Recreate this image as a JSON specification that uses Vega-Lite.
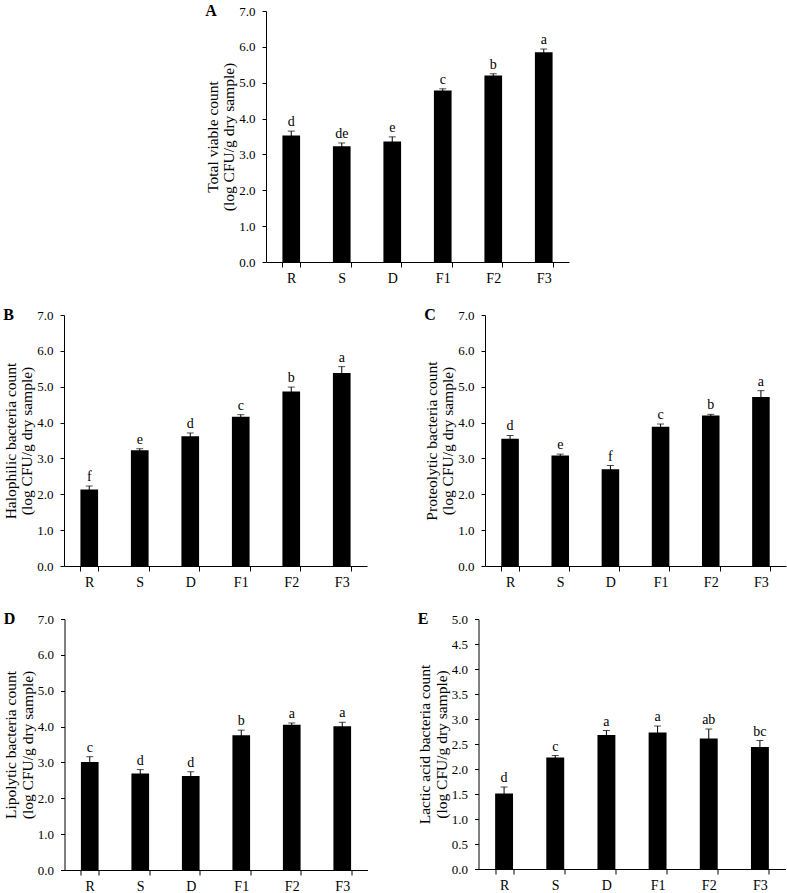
{
  "$schema": "https://vega.github.io/schema/vega-lite/v6.json",
  "padding": {"left": 3, "top": 3, "right": 2, "bottom": 0},
  "background": "white",
  "datasets": {
    "counts": [
      {"panel": "A", "group": "R", "mean": 3.53, "sd": 0.12, "sig": "d"},
      {"panel": "A", "group": "S", "mean": 3.23, "sd": 0.09, "sig": "de"},
      {"panel": "A", "group": "D", "mean": 3.36, "sd": 0.13, "sig": "e"},
      {"panel": "A", "group": "F1", "mean": 4.78, "sd": 0.05, "sig": "c"},
      {"panel": "A", "group": "F2", "mean": 5.20, "sd": 0.05, "sig": "b"},
      {"panel": "A", "group": "F3", "mean": 5.85, "sd": 0.09, "sig": "a"},
      {"panel": "B", "group": "R", "mean": 2.13, "sd": 0.10, "sig": "f"},
      {"panel": "B", "group": "S", "mean": 3.23, "sd": 0.04, "sig": "e"},
      {"panel": "B", "group": "D", "mean": 3.62, "sd": 0.09, "sig": "d"},
      {"panel": "B", "group": "F1", "mean": 4.16, "sd": 0.06, "sig": "c"},
      {"panel": "B", "group": "F2", "mean": 4.87, "sd": 0.12, "sig": "b"},
      {"panel": "B", "group": "F3", "mean": 5.38, "sd": 0.18, "sig": "a"},
      {"panel": "C", "group": "R", "mean": 3.55, "sd": 0.09, "sig": "d"},
      {"panel": "C", "group": "S", "mean": 3.08, "sd": 0.04, "sig": "e"},
      {"panel": "C", "group": "D", "mean": 2.70, "sd": 0.10, "sig": "f"},
      {"panel": "C", "group": "F1", "mean": 3.88, "sd": 0.08, "sig": "c"},
      {"panel": "C", "group": "F2", "mean": 4.20, "sd": 0.03, "sig": "b"},
      {"panel": "C", "group": "F3", "mean": 4.71, "sd": 0.18, "sig": "a"},
      {"panel": "D", "group": "R", "mean": 3.01, "sd": 0.15, "sig": "c"},
      {"panel": "D", "group": "S", "mean": 2.69, "sd": 0.11, "sig": "d"},
      {"panel": "D", "group": "D", "mean": 2.62, "sd": 0.12, "sig": "d"},
      {"panel": "D", "group": "F1", "mean": 3.76, "sd": 0.14, "sig": "b"},
      {"panel": "D", "group": "F2", "mean": 4.05, "sd": 0.05, "sig": "a"},
      {"panel": "D", "group": "F3", "mean": 4.01, "sd": 0.11, "sig": "a"},
      {"panel": "E", "group": "R", "mean": 1.51, "sd": 0.13, "sig": "d"},
      {"panel": "E", "group": "S", "mean": 2.23, "sd": 0.04, "sig": "c"},
      {"panel": "E", "group": "D", "mean": 2.68, "sd": 0.09, "sig": "a"},
      {"panel": "E", "group": "F1", "mean": 2.73, "sd": 0.13, "sig": "a"},
      {"panel": "E", "group": "F2", "mean": 2.61, "sd": 0.19, "sig": "ab"},
      {"panel": "E", "group": "F3", "mean": 2.44, "sd": 0.13, "sig": "bc"}
    ]
  },
  "data": {"name": "counts"},
  "spacing": 22,
  "center": true,
  "vconcat": [
    {
      "spacing": 0,
      "hconcat": [
        {
          "width": 303, "height": 251,
          "title": {"text": "A"},
          "transform": [{"filter": "datum.panel === 'A'"}, {"calculate": "datum.mean + datum.sd", "as": "top"}],
          "encoding": {"x": {"field": "group", "type": "nominal", "sort": ["R", "S", "D", "F1", "F2", "F3"], "scale": {"paddingInner": 0.65, "paddingOuter": 0.325}, "axis": {"title": null, "labelAngle": 0, "tickBand": "extent"}}},
          "layer": [
            {"mark": {"type": "bar", "color": "black"}, "encoding": {"y": {"field": "mean", "type": "quantitative", "scale": {"domain": [0, 7]}, "axis": {"values": [0, 1, 2, 3, 4, 5, 6, 7], "format": ".1f", "title": ["Total viable count", "(log CFU/g dry sample)"]}}}},
            {"mark": {"type": "errorbar", "color": "black", "ticks": {"size": 7, "color": "black"}}, "encoding": {"y": {"field": "mean", "type": "quantitative", "scale": {"domain": [0, 7]}, "axis": {"values": [0, 1, 2, 3, 4, 5, 6, 7], "format": ".1f", "title": ["Total viable count", "(log CFU/g dry sample)"]}}, "yError": {"field": "sd"}}},
            {"mark": {"type": "text", "dy": -5, "fontSize": 14, "baseline": "alphabetic", "color": "black"}, "encoding": {"y": {"field": "top", "type": "quantitative", "scale": {"domain": [0, 7]}, "axis": {"values": [0, 1, 2, 3, 4, 5, 6, 7], "format": ".1f", "title": ["Total viable count", "(log CFU/g dry sample)"]}}, "text": {"field": "sig"}}}
          ]
        },
        {
          "width": 15, "height": 251,
          "data": {"values": []},
          "mark": {"type": "point", "opacity": 0},
          "encoding": {}
        }
      ]
    },
    {
      "spacing": 57,
      "hconcat": [
        {
          "width": 303, "height": 251,
          "title": {"text": "B"},
          "transform": [{"filter": "datum.panel === 'B'"}, {"calculate": "datum.mean + datum.sd", "as": "top"}],
          "encoding": {"x": {"field": "group", "type": "nominal", "sort": ["R", "S", "D", "F1", "F2", "F3"], "scale": {"paddingInner": 0.65, "paddingOuter": 0.325}, "axis": {"title": null, "labelAngle": 0, "tickBand": "extent"}}},
          "layer": [
            {"mark": {"type": "bar", "color": "black"}, "encoding": {"y": {"field": "mean", "type": "quantitative", "scale": {"domain": [0, 7]}, "axis": {"values": [0, 1, 2, 3, 4, 5, 6, 7], "format": ".1f", "title": ["Halophilic bacteria count", "(log CFU/g dry sample)"]}}}},
            {"mark": {"type": "errorbar", "color": "black", "ticks": {"size": 7, "color": "black"}}, "encoding": {"y": {"field": "mean", "type": "quantitative", "scale": {"domain": [0, 7]}, "axis": {"values": [0, 1, 2, 3, 4, 5, 6, 7], "format": ".1f", "title": ["Halophilic bacteria count", "(log CFU/g dry sample)"]}}, "yError": {"field": "sd"}}},
            {"mark": {"type": "text", "dy": -5, "fontSize": 14, "baseline": "alphabetic", "color": "black"}, "encoding": {"y": {"field": "top", "type": "quantitative", "scale": {"domain": [0, 7]}, "axis": {"values": [0, 1, 2, 3, 4, 5, 6, 7], "format": ".1f", "title": ["Halophilic bacteria count", "(log CFU/g dry sample)"]}}, "text": {"field": "sig"}}}
          ]
        },
        {
          "width": 301, "height": 251,
          "title": {"text": "C"},
          "transform": [{"filter": "datum.panel === 'C'"}, {"calculate": "datum.mean + datum.sd", "as": "top"}],
          "encoding": {"x": {"field": "group", "type": "nominal", "sort": ["R", "S", "D", "F1", "F2", "F3"], "scale": {"paddingInner": 0.65, "paddingOuter": 0.325}, "axis": {"title": null, "labelAngle": 0, "tickBand": "extent"}}},
          "layer": [
            {"mark": {"type": "bar", "color": "black"}, "encoding": {"y": {"field": "mean", "type": "quantitative", "scale": {"domain": [0, 7]}, "axis": {"values": [0, 1, 2, 3, 4, 5, 6, 7], "format": ".1f", "title": ["Proteolytic bacteria count", "(log CFU/g dry sample)"]}}}},
            {"mark": {"type": "errorbar", "color": "black", "ticks": {"size": 7, "color": "black"}}, "encoding": {"y": {"field": "mean", "type": "quantitative", "scale": {"domain": [0, 7]}, "axis": {"values": [0, 1, 2, 3, 4, 5, 6, 7], "format": ".1f", "title": ["Proteolytic bacteria count", "(log CFU/g dry sample)"]}}, "yError": {"field": "sd"}}},
            {"mark": {"type": "text", "dy": -5, "fontSize": 14, "baseline": "alphabetic", "color": "black"}, "encoding": {"y": {"field": "top", "type": "quantitative", "scale": {"domain": [0, 7]}, "axis": {"values": [0, 1, 2, 3, 4, 5, 6, 7], "format": ".1f", "title": ["Proteolytic bacteria count", "(log CFU/g dry sample)"]}}, "text": {"field": "sig"}}}
          ]
        }
      ]
    },
    {
      "spacing": 50,
      "hconcat": [
        {
          "width": 303, "height": 251,
          "title": {"text": "D"},
          "transform": [{"filter": "datum.panel === 'D'"}, {"calculate": "datum.mean + datum.sd", "as": "top"}],
          "encoding": {"x": {"field": "group", "type": "nominal", "sort": ["R", "S", "D", "F1", "F2", "F3"], "scale": {"paddingInner": 0.65, "paddingOuter": 0.325}, "axis": {"title": null, "labelAngle": 0, "tickBand": "extent"}}},
          "layer": [
            {"mark": {"type": "bar", "color": "black"}, "encoding": {"y": {"field": "mean", "type": "quantitative", "scale": {"domain": [0, 7]}, "axis": {"values": [0, 1, 2, 3, 4, 5, 6, 7], "format": ".1f", "title": ["Lipolytic bacteria count", "(log CFU/g dry sample)"]}}}},
            {"mark": {"type": "errorbar", "color": "black", "ticks": {"size": 7, "color": "black"}}, "encoding": {"y": {"field": "mean", "type": "quantitative", "scale": {"domain": [0, 7]}, "axis": {"values": [0, 1, 2, 3, 4, 5, 6, 7], "format": ".1f", "title": ["Lipolytic bacteria count", "(log CFU/g dry sample)"]}}, "yError": {"field": "sd"}}},
            {"mark": {"type": "text", "dy": -5, "fontSize": 14, "baseline": "alphabetic", "color": "black"}, "encoding": {"y": {"field": "top", "type": "quantitative", "scale": {"domain": [0, 7]}, "axis": {"values": [0, 1, 2, 3, 4, 5, 6, 7], "format": ".1f", "title": ["Lipolytic bacteria count", "(log CFU/g dry sample)"]}}, "text": {"field": "sig"}}}
          ]
        },
        {
          "width": 307, "height": 250,
          "title": {"text": "E"},
          "transform": [{"filter": "datum.panel === 'E'"}, {"calculate": "datum.mean + datum.sd", "as": "top"}],
          "encoding": {"x": {"field": "group", "type": "nominal", "sort": ["R", "S", "D", "F1", "F2", "F3"], "scale": {"paddingInner": 0.65, "paddingOuter": 0.325}, "axis": {"title": null, "labelAngle": 0, "tickBand": "extent"}}},
          "layer": [
            {"mark": {"type": "bar", "color": "black"}, "encoding": {"y": {"field": "mean", "type": "quantitative", "scale": {"domain": [0, 5]}, "axis": {"values": [0, 0.5, 1, 1.5, 2, 2.5, 3, 3.5, 4, 4.5, 5], "format": ".1f", "title": ["Lactic acid  bacteria count", "(log CFU/g dry sample)"]}}}},
            {"mark": {"type": "errorbar", "color": "black", "ticks": {"size": 7, "color": "black"}}, "encoding": {"y": {"field": "mean", "type": "quantitative", "scale": {"domain": [0, 5]}, "axis": {"values": [0, 0.5, 1, 1.5, 2, 2.5, 3, 3.5, 4, 4.5, 5], "format": ".1f", "title": ["Lactic acid  bacteria count", "(log CFU/g dry sample)"]}}, "yError": {"field": "sd"}}},
            {"mark": {"type": "text", "dy": -5, "fontSize": 14, "baseline": "alphabetic", "color": "black"}, "encoding": {"y": {"field": "top", "type": "quantitative", "scale": {"domain": [0, 5]}, "axis": {"values": [0, 0.5, 1, 1.5, 2, 2.5, 3, 3.5, 4, 4.5, 5], "format": ".1f", "title": ["Lactic acid  bacteria count", "(log CFU/g dry sample)"]}}, "text": {"field": "sig"}}}
          ]
        }
      ]
    }
  ],
  "config": {
    "font": "Liberation Serif",
    "view": {"stroke": null},
    "title": {"anchor": "start", "frame": "bounds", "offset": -14, "fontSize": 16, "fontWeight": "bold", "font": "Liberation Serif", "color": "black"},
    "text": {"font": "Liberation Serif", "color": "black"},
    "axis": {"labelFont": "Liberation Serif", "titleFont": "Liberation Serif", "labelColor": "black", "titleColor": "black", "domainColor": "black", "tickColor": "black", "grid": false, "titleFontWeight": "normal", "labelFontSize": 13, "titleFontSize": 15.5, "titleLineHeight": 16.5, "labelOverlap": false},
    "axisY": {"tickSize": 4, "labelPadding": 7, "titlePadding": 2},
    "axisX": {"tickSize": 5, "labelPadding": 4, "labelFontSize": 14}
  }
}
